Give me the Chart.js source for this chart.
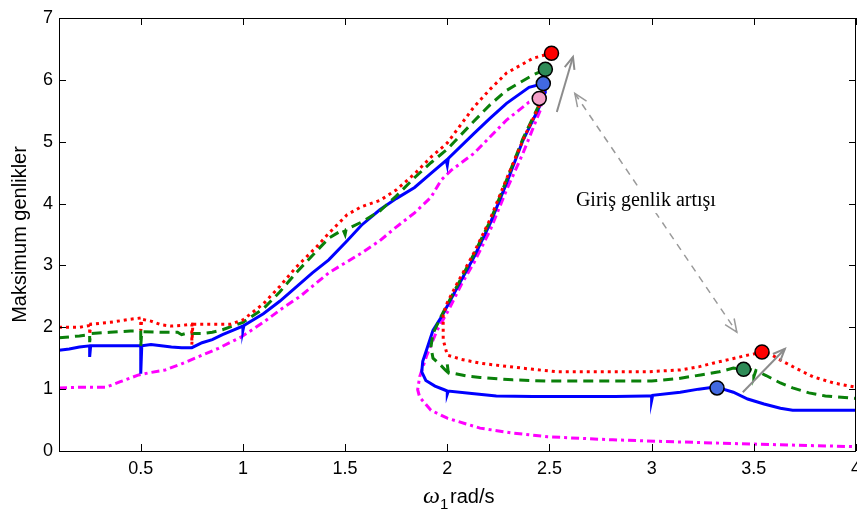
<!DOCTYPE html>
<html>
<head>
<meta charset="utf-8">
<script src="https://cdn.jsdelivr.net/npm/chart.js@4/dist/chart.umd.min.js"></script>
<style>
  html, body { margin: 0; padding: 0; background: #fff; }
  canvas { display: block; }
</style>
</head>
<body>
<canvas id="grafik" width="857" height="512"></canvas>
<script>
// eksen etiketleri
const xTicks = [0.5, 1, 1.5, 2, 2.5, 3, 3.5, 4];
const xTickLabels = ["0.5", "1", "1.5", "2", "2.5", "3", "3.5", "4"];
const yTicks = [0, 1, 2, 3, 4, 5, 6, 7];
const yTickLabels = ["0", "1", "2", "3", "4", "5", "6", "7"];

// mavi (düz)
const maviX = [0.10,0.15,0.20,0.25,0.25,0.255,0.35,0.45,0.50,0.50,0.505,0.55,0.60,0.65,0.70,0.75,0.80,0.85,0.90,0.95,1.00,1.00,1.005,1.10,1.18,1.26,1.34,1.42,1.51,1.58,1.67,1.75,1.84,1.92,1.995,2.00,2.005,2.13,2.21,2.29,2.40,2.47,
  2.48,2.45,2.37,2.29,2.21,2.13,2.05,1.97,1.93,1.90,1.88,1.875,1.895,1.94,1.985,2.00,2.00,2.005,2.12,2.24,2.42,2.62,2.82,2.975,3.00,3.00,3.005,3.14,3.23,3.30,3.33,3.40,3.47,3.55,3.63,3.69,3.83,4.00];
const maviY = [1.63,1.65,1.68,1.70,1.52,1.70,1.70,1.70,1.70,1.25,1.70,1.72,1.70,1.68,1.67,1.67,1.75,1.80,1.88,1.95,2.02,1.95,2.03,2.22,2.42,2.65,2.88,3.09,3.40,3.65,3.90,4.08,4.26,4.49,4.70,4.62,4.73,5.13,5.38,5.62,5.88,5.94,
  5.80,5.56,5.02,4.33,3.68,3.13,2.65,2.16,1.95,1.65,1.45,1.28,1.14,1.05,0.99,0.97,0.92,0.97,0.93,0.89,0.88,0.88,0.88,0.89,0.89,0.82,0.90,0.95,1.00,1.03,1.02,0.95,0.84,0.76,0.69,0.66,0.66,0.66];

// yeşil (kesikli)
const yesilX = [0.10,0.20,0.25,0.25,0.255,0.35,0.45,0.50,0.50,0.505,0.60,0.68,0.70,0.72,0.75,0.80,0.85,0.90,0.95,1.00,1.10,1.18,1.26,1.34,1.42,1.49,1.50,1.505,1.58,1.67,1.75,1.84,1.92,2.00,2.13,2.21,2.29,2.42,2.48,
  2.48,2.45,2.37,2.29,2.21,2.13,2.05,1.97,1.93,1.92,1.93,1.97,1.99,2.00,2.00,2.005,2.10,2.16,2.32,2.49,2.72,3.00,3.13,3.24,3.33,3.40,3.45,3.48,3.50,3.50,3.51,3.56,3.63,3.69,3.77,3.85,4.00];
const yesilY = [1.83,1.86,1.88,1.76,1.90,1.92,1.94,1.94,1.70,1.93,1.92,1.92,1.88,1.90,1.90,1.90,1.92,1.96,2.02,2.08,2.30,2.57,2.88,3.16,3.44,3.58,3.50,3.58,3.70,3.88,4.12,4.42,4.66,4.88,5.33,5.60,5.83,6.08,6.17,
  6.05,5.60,5.05,4.38,3.72,3.18,2.68,2.18,1.90,1.68,1.50,1.38,1.31,1.28,1.40,1.27,1.21,1.19,1.15,1.13,1.13,1.13,1.17,1.23,1.28,1.34,1.31,1.32,1.30,1.20,1.30,1.22,1.10,1.02,0.94,0.89,0.85];

// kırmızı (noktalı)
const kirmiziX = [0.10,0.20,0.25,0.25,0.255,0.35,0.45,0.50,0.50,0.505,0.55,0.60,0.65,0.70,0.75,0.75,0.755,0.85,0.94,1.00,1.10,1.18,1.26,1.36,1.42,1.51,1.58,1.67,1.75,1.84,1.92,2.00,2.13,2.21,2.29,2.42,2.51,
  2.50,2.46,2.38,2.29,2.21,2.13,2.05,2.00,1.98,1.98,2.00,2.07,2.16,2.26,2.42,2.54,2.77,2.975,3.08,3.14,3.23,3.30,3.38,3.47,3.55,3.59,3.63,3.71,3.79,3.89,4.00];
const kirmiziY = [2.00,2.00,2.03,1.88,2.05,2.08,2.13,2.15,1.95,2.13,2.10,2.04,2.02,2.03,2.05,1.72,2.05,2.05,2.05,2.12,2.38,2.66,2.97,3.30,3.52,3.82,3.95,4.05,4.22,4.48,4.75,4.98,5.56,5.85,6.11,6.35,6.43,
  6.25,5.65,5.10,4.40,3.75,3.20,2.72,2.40,2.20,1.80,1.55,1.48,1.42,1.38,1.32,1.28,1.28,1.28,1.30,1.31,1.36,1.42,1.48,1.55,1.60,1.55,1.47,1.33,1.20,1.10,1.03];

// macenta (kesik-noktalı)
const macentaX = [0.10,0.20,0.25,0.33,0.40,0.49,0.55,0.62,0.70,0.78,0.88,0.99,1.10,1.19,1.28,1.42,1.58,1.67,1.75,1.84,1.92,1.97,2.02,2.13,2.21,2.29,2.40,2.45,
  2.46,2.37,2.29,2.21,2.13,2.07,2.01,1.95,1.90,1.865,1.855,1.865,1.92,2.00,2.16,2.32,2.49,2.81,3.30,3.63,4.00];
const macentaY = [1.02,1.03,1.03,1.03,1.12,1.23,1.27,1.31,1.41,1.52,1.66,1.84,2.08,2.30,2.50,2.88,3.20,3.40,3.62,3.85,4.10,4.38,4.54,4.81,5.08,5.35,5.64,5.70,
  5.55,4.81,4.22,3.57,3.04,2.70,2.30,1.95,1.55,1.20,0.99,0.87,0.66,0.53,0.37,0.29,0.23,0.18,0.13,0.10,0.07];

// işaretli noktalar
const isaretX = [2.51, 2.48, 2.47, 2.45, 3.32, 3.45, 3.54];
const isaretY = [6.43, 6.17, 5.94, 5.70, 1.02, 1.32, 1.60];
const isaretRenk = ["#ff0000", "#2e8b57", "#4169e1", "#f4a0c8", "#4169e1", "#2e8b57", "#ff0000"];

// açıklama
const aciklama = "Giriş genlik artışı";

function noktalar(xs, ys) {
  return xs.map((x, i) => ({ x: x, y: ys[i] }));
}

function seri(xs, ys, renk, kesik) {
  return {
    data: noktalar(xs, ys),
    showLine: true,
    borderColor: renk,
    borderWidth: 3,
    borderDash: kesik,
    pointRadius: 0,
    fill: false,
    tension: 0,
  };
}

function ok(ctx, x1, y1, x2, y2, boy) {
  let a = Math.atan2(y2 - y1, x2 - x1);
  ctx.beginPath();
  ctx.moveTo(x2 - boy * Math.cos(a - 0.4), y2 - boy * Math.sin(a - 0.4));
  ctx.lineTo(x2, y2);
  ctx.lineTo(x2 - boy * Math.cos(a + 0.4), y2 - boy * Math.sin(a + 0.4));
  ctx.stroke();
}

const cerceve = {
  id: "cerceve",
  afterDatasetsDraw(chart) {
    let ctx = chart.ctx;
    let a = chart.chartArea;
    let xs = chart.scales.x, ys = chart.scales.y;
    ctx.save();
    ctx.strokeStyle = "#000";
    ctx.lineWidth = 1;
    ctx.setLineDash([]);
    ctx.strokeRect(a.left + 0.5, a.top + 0.5, a.right - a.left - 1, a.bottom - a.top);
    ctx.beginPath();
    xTicks.forEach(v => {
      let px = Math.round(xs.getPixelForValue(v)) + 0.5;
      ctx.moveTo(px, a.bottom); ctx.lineTo(px, a.bottom - 7);
      ctx.moveTo(px, a.top); ctx.lineTo(px, a.top + 7);
    });
    yTicks.forEach(v => {
      let py = Math.round(ys.getPixelForValue(v)) + 0.5;
      ctx.moveTo(a.left, py); ctx.lineTo(a.left + 7, py);
      ctx.moveTo(a.right, py); ctx.lineTo(a.right - 7, py);
    });
    ctx.stroke();

    // oklar
    ctx.strokeStyle = "#8c8c8c";
    ctx.lineWidth = 2;
    let p = (x, y) => [xs.getPixelForValue(x), ys.getPixelForValue(y)];
    let [a1, b1] = p(2.536, 5.48), [a2, b2] = p(2.615, 6.37);
    ctx.beginPath(); ctx.moveTo(a1, b1); ctx.lineTo(a2, b2); ctx.stroke();
    ok(ctx, a1, b1, a2, b2, 13);
    let [c1, d1] = p(3.446, 0.95), [c2, d2] = p(3.652, 1.65);
    ctx.beginPath(); ctx.moveTo(c1, d1); ctx.lineTo(c2, d2); ctx.stroke();
    ok(ctx, c1, d1, c2, d2, 13);

    ctx.strokeStyle = "#9a9a9a";
    ctx.lineWidth = 1.5;
    let [e1, f1] = p(2.624, 5.78), [e2, f2] = p(3.417, 1.92);
    ctx.setLineDash([7, 6]);
    ctx.beginPath(); ctx.moveTo(e1, f1); ctx.lineTo(e2, f2); ctx.stroke();
    ctx.setLineDash([]);
    ok(ctx, e2, f2, e1, f1, 14);
    ok(ctx, e1, f1, e2, f2, 14);

    let [tx, ty] = p(2.972, 4.04);
    ctx.font = "20px 'Liberation Serif'";
    let w = ctx.measureText(aciklama).width;
    ctx.fillStyle = "#fff";
    ctx.fillRect(tx - w / 2 - 3, ty - 12, w + 6, 24);
    ctx.fillStyle = "#000";
    ctx.textAlign = "center";
    ctx.textBaseline = "middle";
    ctx.fillText(aciklama, tx, ty);
    ctx.restore();
  },
  afterDraw(chart) {
    let ctx = chart.ctx;
    let a = chart.chartArea;
    ctx.save();
    ctx.fillStyle = "#000";
    // y ekseni başlığı
    ctx.translate(20, (a.top + a.bottom) / 2);
    ctx.rotate(-Math.PI / 2);
    ctx.font = "20px 'Liberation Sans'";
    ctx.textAlign = "center";
    ctx.textBaseline = "middle";
    ctx.fillText("Maksimum genlikler", 0, 0);
    ctx.restore();

    // x ekseni başlığı
    ctx.save();
    ctx.fillStyle = "#000";
    ctx.textBaseline = "alphabetic";
    ctx.font = "italic 24px 'Liberation Serif'";
    ctx.fillText("ω", 423, 503);
    ctx.font = "15px 'Liberation Sans'";
    ctx.fillText("1", 440, 509);
    ctx.font = "20px 'Liberation Sans'";
    ctx.fillText("rad/s", 450, 503);
    ctx.restore();
  },
};

const grafik = new Chart(document.getElementById("grafik"), {
  type: "scatter",
  data: {
    datasets: [
      {
        data: noktalar(isaretX, isaretY),
        pointRadius: 7,
        pointBackgroundColor: isaretRenk,
        pointBorderColor: "#000",
        pointBorderWidth: 1.5,
        showLine: false,
      },
      seri(kirmiziX, kirmiziY, "#ff0000", [3, 4]),
      seri(yesilX, yesilY, "#0a800a", [10, 6]),
      seri(maviX, maviY, "#0000ff", []),
      seri(macentaX, macentaY, "#ff00ff", [8, 4, 3, 4]),
    ],
  },
  options: {
    responsive: false,
    animation: false,
    devicePixelRatio: 1,
    layout: { autoPadding: false, padding: { top: 18, right: 1, left: 0, bottom: 0 } },
    plugins: { legend: { display: false }, tooltip: { enabled: false } },
    scales: {
      x: {
        type: "linear",
        min: 0.1,
        max: 4,
        afterBuildTicks: s => { s.ticks = xTicks.map(v => ({ value: v })); },
        afterFit: s => { s.height = 61; s.paddingLeft = 0; s.paddingRight = 0; },
        grid: { display: false, drawTicks: false },
        border: { display: false },
        ticks: {
          color: "#000",
          padding: 7,
          font: { family: "Liberation Sans", size: 18 },
          maxRotation: 0,
          callback: v => xTickLabels[xTicks.indexOf(v)],
        },
      },
      y: {
        type: "linear",
        min: 0,
        max: 7,
        afterBuildTicks: s => { s.ticks = yTicks.map(v => ({ value: v })); },
        afterFit: s => { s.width = 59; s.paddingTop = 0; s.paddingBottom = 0; },
        grid: { display: false, drawTicks: false },
        border: { display: false },
        ticks: {
          color: "#000",
          padding: 6,
          font: { family: "Liberation Sans", size: 18 },
          callback: v => yTickLabels[yTicks.indexOf(v)],
        },
      },
    },
  },
  plugins: [cerceve],
});
</script>
</body>
</html>
